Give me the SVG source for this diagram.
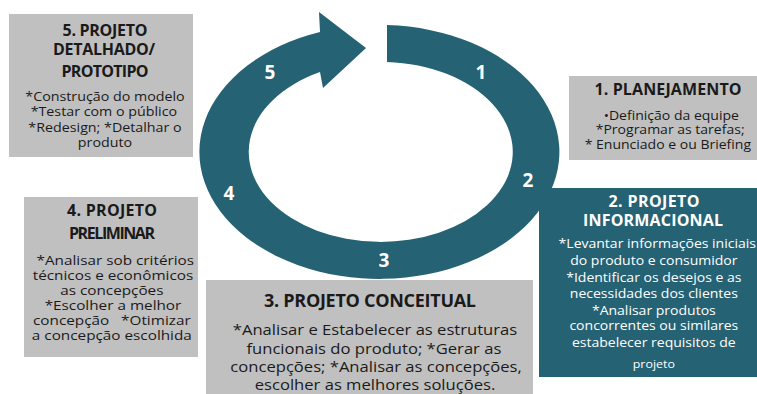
<svg xmlns="http://www.w3.org/2000/svg" width="757" height="394" viewBox="0 0 757 394">
  <style>
    .card { fill: #c0c0c0; }
    .dark { fill: #256273; }
    .ttl { font-family: "Open Sans", "Noto Sans", sans-serif; font-weight: bold; fill: #1a1a1a; text-anchor: middle; }
    .txt { font-family: "Open Sans", "Noto Sans", sans-serif; fill: #1a1a1a; text-anchor: middle; }
    .ttl.inv, .txt.inv { fill: #ffffff; }
    .num { font-family: "Open Sans", "Noto Sans", sans-serif; font-weight: bold; font-size: 19px; fill: #ffffff; text-anchor: middle; }
  </style>

  <rect width="757" height="394" fill="#ffffff"/>

  <!-- stage 5 -->
  <g id="stage5">
    <rect class="card" x="9" y="14" width="184" height="143"/>
    <text class="ttl" font-size="16" x="105" y="36" textLength="85">5. PROJETO</text>
    <text class="ttl" font-size="16" x="104" y="55" textLength="102">DETALHADO/</text>
    <text class="ttl" font-size="16" x="105" y="77" textLength="87">PROTOTIPO</text>
    <!-- body text is widened around its centre line -->
    <g transform="matrix(1.15 0 0 1 -15.75 0)" font-size="12.4">
      <text class="txt" x="105" y="101">*Construção do modelo</text>
      <text class="txt" x="104" y="116">*Testar com o público</text>
      <text class="txt" x="105" y="132">*Redesign; *Detalhar o</text>
      <text class="txt" x="105" y="147">produto</text>
    </g>
  </g>

  <!-- stage 1 -->
  <g id="stage1">
    <rect class="card" x="569" y="76" width="188" height="84"/>
    <text class="ttl" font-size="16" x="668" y="95" textLength="147">1. PLANEJAMENTO</text>
    <g transform="matrix(1.15 0 0 1 -100.35 0)" font-size="12.2">
      <text class="txt" x="671" y="120">•Definição da equipe</text>
      <text class="txt" x="670" y="134">*Programar as tarefas;</text>
      <text class="txt" x="668" y="149">* Enunciado e ou Briefing</text>
    </g>
  </g>

  <!-- stage 2 -->
  <g id="stage2">
    <rect class="dark" x="539" y="188" width="218" height="189"/>
  </g>

  <!-- stage 4 -->
  <g id="stage4">
    <rect class="card" x="24" y="197" width="174" height="160"/>
    <text class="ttl" font-size="16" x="112" y="216" textLength="90">4. PROJETO</text>
    <text class="ttl" font-size="16" x="112" y="239" textLength="86">PRELIMINAR</text>
    <g transform="matrix(1.15 0 0 1 -16.95 0)" font-size="13.3">
      <text class="txt" x="115" y="265">*Analisar sob critérios</text>
      <text class="txt" x="113" y="280">técnicos e econômicos</text>
      <text class="txt" x="112" y="295">as concepções</text>
      <text class="txt" x="113" y="310">*Escolher a melhor</text>
      <text class="txt" x="112" y="325" xml:space="preserve">concepção   *Otimizar</text>
      <text class="txt" x="112" y="340">a concepção escolhida</text>
    </g>
  </g>

  <!-- stage 3 -->
  <g id="stage3">
    <rect class="card" x="206" y="280" width="327" height="114"/>
    <text class="ttl" font-size="18" x="370" y="307" textLength="212">3. PROJETO CONCEITUAL</text>
    <g transform="matrix(1.1 0 0 1 -37.5 0)" font-size="15.1">
      <text class="txt" x="375" y="335">*Analisar e Estabelecer as estruturas</text>
      <text class="txt" x="374" y="354">funcionais do produto; *Gerar as</text>
      <text class="txt" x="376" y="372">concepções; *Analisar as concepções,</text>
      <text class="txt" x="375" y="390">escolher as melhores soluções.</text>
    </g>
  </g>

  <!-- cycle arrow -->
  <g id="connectors">
    <path class="dark" d="M387,25 A180,127 0 1 1 320,32 L319,12 L366,48 L323,88 L320,72 A132,90 0 1 0 387,62 Z"/>
    <text class="num" x="481" y="79">1</text>
    <text class="num" x="528" y="187">2</text>
    <text class="num" x="384" y="267">3</text>
    <text class="num" x="229" y="200">4</text>
    <text class="num" x="270" y="79">5</text>
  </g>

  <!-- stage 2 text drawn above the cycle -->
  <g id="stage2-text">
    <text class="ttl inv" font-size="16" x="654" y="207" textLength="91">2. PROJETO</text>
    <text class="ttl inv" font-size="16" x="653" y="226" textLength="140">INFORMACIONAL</text>
    <g transform="matrix(1.15 0 0 1 -98.25 0)" font-size="12.2">
      <text class="txt inv" x="657" y="248">*Levantar informações iniciais</text>
      <text class="txt inv" x="654" y="265">do produto e consumidor</text>
      <text class="txt inv" x="654" y="282">*Identificar os desejos e as</text>
      <text class="txt inv" x="654" y="298">necessidades dos clientes</text>
      <text class="txt inv" x="654" y="315">*Analisar produtos</text>
      <text class="txt inv" x="654" y="330">concorrentes ou similares</text>
      <text class="txt inv" x="654" y="347">estabelecer requisitos de</text>
      <text class="txt inv" x="654" y="368" font-size="10.8">projeto</text>
    </g>
  </g>
</svg>
